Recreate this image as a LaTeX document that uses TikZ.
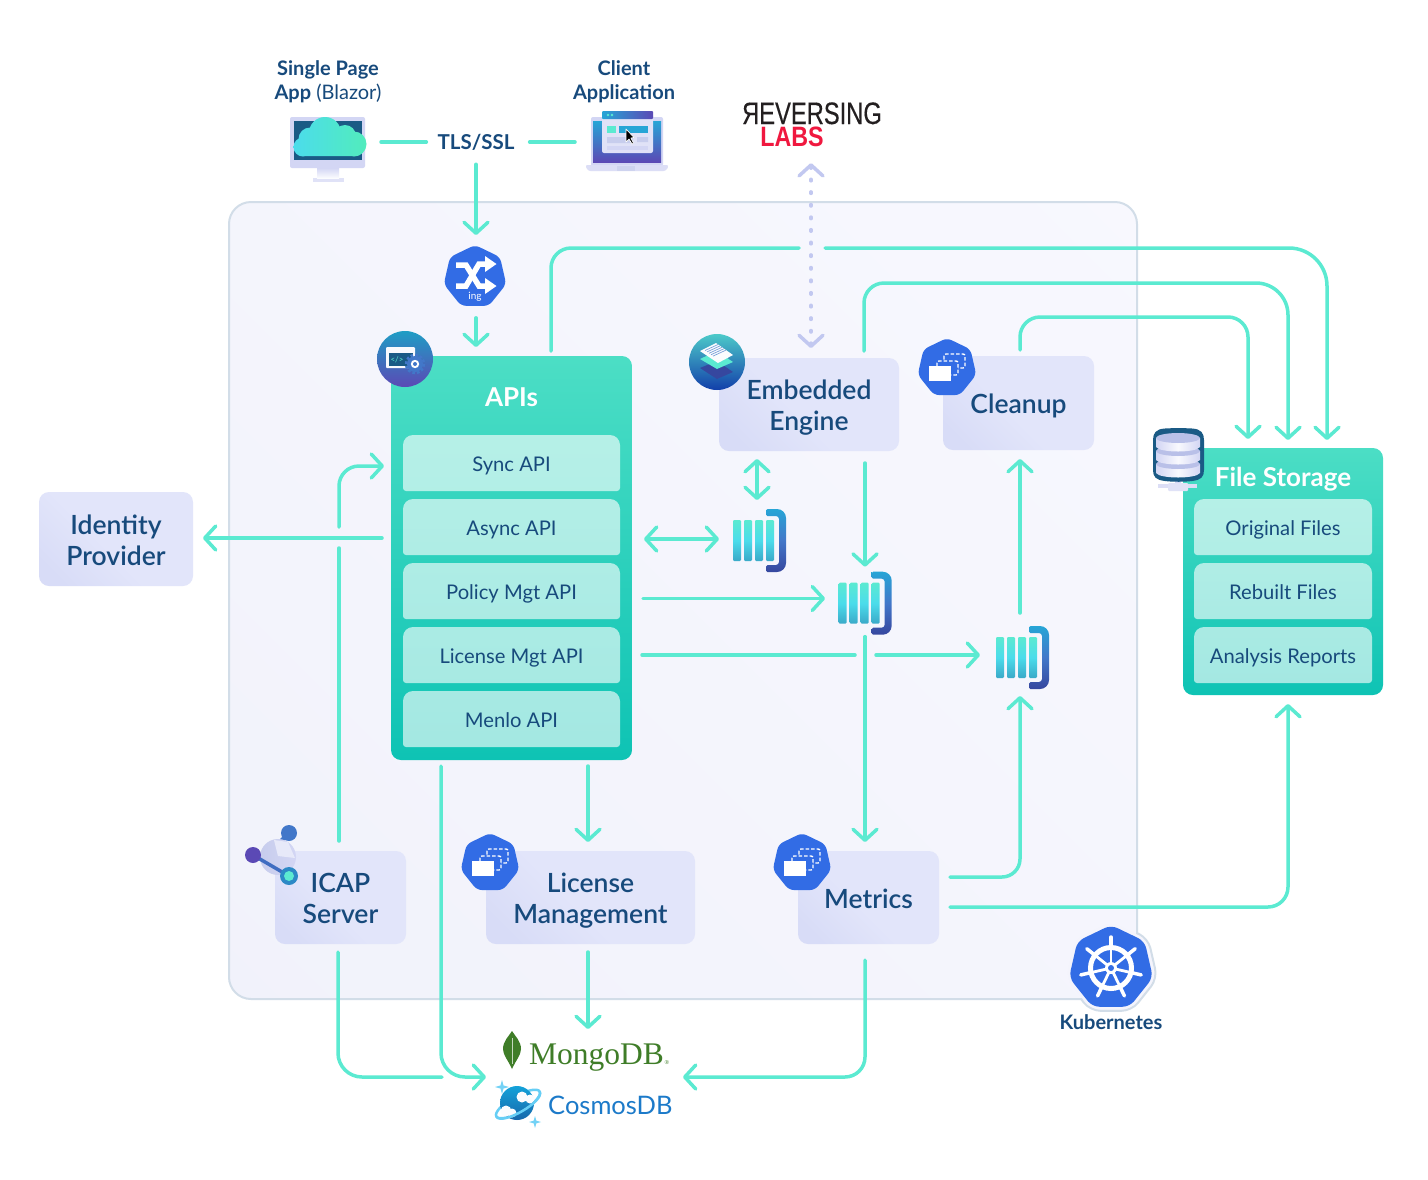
\documentclass[tikz,border=0pt]{standalone}
\usepackage{fontspec}
\usepackage{graphicx}
\setmainfont{Lato}
\newfontfamily\medfont{Lato Semibold}
\newfontfamily\serifont{Liberation Serif}
\newfontfamily\rlfont[FakeBold=0.35]{Liberation Sans}
\newfontfamily\rllabs{Liberation Sans}
\usetikzlibrary{arrows.meta,shapes.geometric,calc}
\definecolor{flowc}{HTML}{5BEAD1}
\definecolor{dotc}{HTML}{C2C8F0}
\definecolor{inkc}{HTML}{174A7C}
\definecolor{boxa}{HTML}{D8DCF7}
\definecolor{boxb}{HTML}{E2E5FA}
\definecolor{panela}{HTML}{F0F1FA}
\definecolor{panelb}{HTML}{F9F9FF}
\definecolor{paneledge}{HTML}{D2DDE8}
\definecolor{kblue}{HTML}{326CE5}
\definecolor{tealtop}{HTML}{4CDEC5}
\definecolor{tealbot}{HTML}{0EC3B4}
\definecolor{lav}{HTML}{D3D6F4}
\definecolor{lavdeep}{HTML}{B9C0E8}
\definecolor{navy}{HTML}{1A5A85}
\definecolor{skyb}{HTML}{27A5D6}
\definecolor{violet}{HTML}{5B49B5}
\definecolor{barmid}{HTML}{4BDCEB}
\definecolor{barlow}{HTML}{3AA9C8}
\definecolor{brmid}{HTML}{4277C9}
\definecolor{brlow}{HTML}{36479F}
\definecolor{mongoc}{HTML}{3F7D28}
\definecolor{cosmosc}{HTML}{1C7AC9}
\definecolor{rlred}{HTML}{F0183F}
\definecolor{rlblack}{HTML}{231F20}
\pgfdeclarehorizontalshading{boxshade}{100bp}{color(0bp)=(boxa); color(22bp)=(boxa); color(45bp)=(boxb); color(100bp)=(boxb)}
\pgfdeclarehorizontalshading{panelshade}{100bp}{color(0bp)=(panela); color(100bp)=(panelb)}
\newcommand\bt[1]{\raisebox{-11pt}[0pt][0pt]{\begin{tabular}{@{}c@{}}#1\end{tabular}}}
\tikzset{
  >={Straight Barb[length=11pt,width=24pt,round,line width=3.5pt]},
  flow/.style={draw=flowc,line width=3.5pt,line cap=round,line join=round},
  dotflow/.style={draw=dotc,line width=3.5pt,line cap=round,dash pattern=on 1.5pt off 11.1pt},
  boxnode/.style={shading=boxshade,shading angle=45,rounded corners=10pt,inner sep=0pt,outer sep=0pt,anchor=north west,text=inkc,font=\medfont\fontsize{26.5pt}{31pt}\selectfont},
  greenbox/.style={top color=tealtop,bottom color=tealbot,rounded corners=10pt,inner sep=0pt,outer sep=0pt,anchor=north west},
  rowtext/.style={text=inkc,inner sep=0pt,outer sep=0pt,text height=18.5pt,text depth=2.5pt,font=\fontsize{20.2pt}{24pt}\selectfont},
  titletext/.style={text=white,inner sep=0pt,font=\bfseries\fontsize{26pt}{30pt}\selectfont},
  toplabel/.style={text=inkc,inner sep=0pt,align=center,font=\fontsize{20pt}{24pt}\selectfont},
  hept/.style={regular polygon,regular polygon sides=7,fill=kblue,rounded corners=5pt,inner sep=0pt,outer sep=0pt},
  areabox/.style={inner sep=0pt,outer sep=0pt,anchor=north west},
  foldericon/.pic={
    \draw[white,line width=1.4pt,dash pattern=on 3.5pt off 2pt,rounded corners=2pt] (-3,-14) rectangle (18,0);
    \draw[white,fill=kblue,line width=1.4pt,dash pattern=on 3.5pt off 2pt,rounded corners=2pt] (-10,-7) rectangle (11,7);
    \fill[white] (-18,-2) rectangle (4,13);
  },
  queueicon/.pic={
    \foreach \qx in {0,11,22,33}{
      \path[top color=flowc,bottom color=barlow,middle color=barmid,rounded corners=1.2pt] (\qx,11) rectangle ++(8,41);
    }
    \path[top color=skyb,bottom color=brlow,middle color=brmid]
      (33,2) [rounded corners=1.5pt] -- (33,0) [rounded corners=9pt] -- (53,0) -- (53,63) [rounded corners=1.5pt] -- (33,63) -- (33,56) [rounded corners=3pt] -- (46,56) -- (46,7) [rounded corners=1.5pt] -- (33,7) -- cycle;
  }
}
\newcommand\rowbox[5]{%
  \path[fill=white,fill opacity=.62] ({#2},{#3+28}) [rounded corners=10pt] -- (#2,#3) -- ({#2+#4},#3) -- ({#2+#4},{#3+28}) [rounded corners=3pt] -- ({#2+#4},{#3+56}) -- (#2,{#3+56}) -- cycle;
  \node[rowtext,minimum width=#4 pt,minimum height=56pt] (#1) at ({#2+#4/2},{#3+28}) {#5};
}
\newcommand\sparkle[3]{%
  \fill[cyan!55!white] (#1,{#2-#3}) -- ({#1+.22*#3},{#2-.22*#3}) -- ({#1+#3},#2) -- ({#1+.22*#3},{#2+.22*#3}) -- (#1,{#2+#3}) -- ({#1-.22*#3},{#2+.22*#3}) -- ({#1-#3},#2) -- ({#1-.22*#3},{#2-.22*#3}) -- cycle;
}
\begin{document}
\begin{tikzpicture}[x=1pt,y=-1pt]
\useasboundingbox (0,0) rectangle (1428,1179);
\fill[white] (0,0) rectangle (1428,1179);

% Kubernetes panel with its outset round the badge
\node[regular polygon,regular polygon sides=7,minimum size=95pt,rounded corners=10pt,fill=panela,draw=paneledge,line width=2pt,inner sep=0pt] (halo) at (1111,968) {};
\node[areabox,shading=panelshade,shading angle=45,draw=paneledge,line width=2pt,rounded corners=22pt,minimum width=908pt,minimum height=797pt] (panel) at (229,202) {};
\node[regular polygon,regular polygon sides=7,minimum size=92pt,rounded corners=9pt,fill=panela!60!panelb,inner sep=0pt] (halofill) at (1111,968) {};
\node[hept,minimum size=86pt,rounded corners=7pt] (k8s) at (1111,968) {};
\foreach \a in {-90,-38.57,12.86,64.29,115.71,167.14,218.57}{
  \draw[white,line width=2.8pt] (k8s.center) -- ($(k8s.center)+(\a:25)$);
  \draw[white,line width=3.5pt,line cap=round] ($(k8s.center)+(\a:21)$) -- ($(k8s.center)+(\a:31)$);
}
\draw[white,line width=5pt] (k8s.center) circle (20.5);
\fill[white] (k8s.center) circle (6);
\fill[kblue] (k8s.center) circle (3);
\node[toplabel,font=\bfseries\fontsize{20pt}{24pt}\selectfont] (k8slabel) at (1111,1022) {Kubernetes};

% Top labels and clients
\node[toplabel] (spalabel) at (328,82) {\textbf{Single Page}\\\textbf{App} (Blazor)};
\node[toplabel,font=\bfseries\fontsize{20pt}{24pt}\selectfont] (clientlabel) at (624,82) {Client\\Application};
\node[toplabel,font=\bfseries\fontsize{20.5pt}{24pt}\selectfont] (tls) at (476,142) {TLS/SSL};

\node[areabox,minimum width=75pt,minimum height=65pt] (spa) at (290,117) {};
\fill[lav!70!white] (313,178) rectangle (344,182);
\path[top color=lav,bottom color=white!92!lav] (317,168) rectangle (339,178);
\fill[lav,rounded corners=2pt] (290,117) rectangle (365,168);
\fill[navy] (294,121) rectangle (362,160);
\path[left color=barmid,right color=flowc!90!green] (354,140) rectangle (303,156) (325,133) circle (16) (345,136) circle (11) (354,144) circle (12.5) (310,139) circle (11.5) (303,147) circle (9.5);

\node[areabox,minimum width=84pt,minimum height=60pt] (client) at (585,111) {};
\fill[lav,rounded corners=2pt] (591,117) rectangle (663,166);
\path[top color=skyb,bottom color=violet] (593,121) rectangle (661,162);
\fill[lav!80!white,rounded corners=2.5pt] (585,165) -- (669,165) -- (666,171) -- (588,171) -- cycle;
\fill[lavdeep!70!white] (617,166) rectangle (635,171);
\fill[lav!70!white,rounded corners=2pt] (602,114) rectangle (653,153);
\path[left color=skyb,right color=violet,rounded corners=1pt] (602,111) rectangle (653,119);
\fill[flowc] (608,115) circle (1.4) (612,115) circle (1.4);
\fill[flowc] (607,126) rectangle (616,133);
\fill[skyb] (619,126) rectangle (648,133);
\fill[lavdeep!80!white] (607,137) rectangle (633,143) (637,137) rectangle (648,142);
\fill[lav] (607,146) rectangle (648,150);
\draw[white,fill=black,line width=.7pt,line join=round] (626,129) -- (626,142) -- (629,139) -- (632,144) -- (633.5,143) -- (631,138) -- (634,137.5) -- cycle;

% Reversing Labs
\node[inner sep=0pt,text=rlblack,text height=22pt,text depth=0pt,font=\rlfont\fontsize{31pt}{31pt}\selectfont] (rl1) at (812,113) {\scalebox{.765}[1]{\reflectbox{R}EVERSING}};
\node[inner sep=0pt,text=rlred,text height=20pt,text depth=0pt,font=\rllabs\bfseries\fontsize{28pt}{28pt}\selectfont] (rl2) at (792,136) {\scalebox{.83}[1]{LABS}};

% Ingress
\node[hept,minimum size=64pt] (ing) at (475,277) {};
\draw[white,line width=5.5pt] (456,265) -- (466,265) -- (479,286) -- (487,286);
\draw[white,line width=5.5pt] (456,286) -- (466,286) -- (479,264) -- (487,264);
\fill[white] (485,256) -- (496.5,264) -- (485,272) -- cycle (485,278) -- (496.5,286) -- (485,294) -- cycle;
\node[inner sep=0pt,text=white,font=\fontsize{10pt}{10pt}\selectfont] (inglabel) at (475,297) {ing};

% APIs
\node[greenbox,minimum width=241pt,minimum height=404pt] (apis) at (391,356) {};
\node[titletext] (apistitle) at (511.5,397) {APIs};
\rowbox{sync}{403}{435}{217}{Sync API}
\rowbox{async}{403}{499}{217}{Async API}
\rowbox{policy}{403}{563}{217}{Policy Mgt API}
\rowbox{licmgt}{403}{627}{217}{License Mgt API}
\rowbox{menlo}{403}{691}{217}{Menlo API}
\path[top color=skyb!80!teal,bottom color=violet] (405,359) circle (28);
\fill[white!85!lav,rounded corners=1pt] (386,347) rectangle (415,368);
\fill[navy] (389,353) rectangle (413,366);
\node[inner sep=0pt,text=flowc,font=\fontsize{8pt}{8pt}\selectfont] (codetxt) at (397,359.5) {</>};
\draw[brmid,line width=2.5pt,dash pattern=on 2.6pt off 2.1pt] (415,364) circle (9);
\fill[brmid] (415,364) circle (8);
\fill[white] (415,364) circle (4.2);
\fill[brmid] (415,364) circle (2);

% Service boxes
\node[boxnode,minimum width=180pt,minimum height=93pt] (engine) at (719,358) {\bt{Embedded\\Engine}};
\node[boxnode,minimum width=151pt,minimum height=94pt] (cleanup) at (943,356) {\bt{Cleanup}};
\node[boxnode,minimum width=154pt,minimum height=94pt] (idp) at (39,492) {\bt{Identity\\Provider}};
\node[boxnode,minimum width=131pt,minimum height=93pt] (icap) at (275,851) {\bt{ICAP\\Server}};
\node[boxnode,minimum width=209pt,minimum height=93pt] (lic) at (486,851) {\bt{License\\Management}};
\node[boxnode,minimum width=141pt,minimum height=93pt] (metrics) at (798,851) {\bt{Metrics}};

% Engine icon
\path[top color=teal!60!cyan!70,bottom color=navy!70!blue] (717,362) circle (28);
\fill[brlow] (700,368) -- (717,361) -- (733,372) -- (717,379) -- cycle;
\fill[flowc] (700,359) -- (717,351) -- (733,362) -- (717,369) -- cycle;
\fill[white!92!lav] (700,351) -- (716,343) -- (733,355) -- (718,363) -- cycle;
\foreach \s in {0,1,2,3,4}{\draw[brmid!70!white,line width=.7pt] ($(705,350.5)+(\s*2,\s*1.4)$) -- ++(13,-6);}

% Cleanup / License / Metrics badges
\node[hept,minimum size=60pt] (cleanupbadge) at (947,368) {};
\pic at (cleanupbadge.center) {foldericon};
\node[hept,minimum size=60pt] (licbadge) at (490,863) {};
\pic at (licbadge.center) {foldericon};
\node[hept,minimum size=60pt] (metricsbadge) at (802,863) {};
\pic at (metricsbadge.center) {foldericon};

% ICAP icon
\draw[brmid,line width=4pt] (289,833) -- (277,845);
\path[left color=lavdeep!80!white,right color=lav] (278,857) circle (18);
\fill[white!45!lav] (274,840) -- (288,842) -- (295,858) -- (278,856) -- cycle;
\fill[brmid] (289,833) circle (8);
\draw[brmid!80!brlow,line width=3.5pt] (253,855) -- (289,876);
\fill[violet] (253,855) circle (8);
\fill[skyb!70!brlow] (289,876) circle (9);
\fill[flowc] (289,876) circle (5);

% Queues
\node[areabox,minimum width=53pt,minimum height=63pt] (q1) at (733,509) {};
\pic at (q1.north west) {queueicon};
\node[areabox,minimum width=53pt,minimum height=63pt] (q2) at (838.7,571.7) {};
\pic at (q2.north west) {queueicon};
\node[areabox,minimum width=53pt,minimum height=63pt] (q3) at (996,626) {};
\pic at (q3.north west) {queueicon};

% File storage
\node[greenbox,minimum width=200pt,minimum height=247pt] (fs) at (1183,448) {};
\node[titletext] (fstitle) at (1283,479) {File Storage};
\rowbox{orig}{1194}{499}{178}{Original Files}
\rowbox{rebuilt}{1194}{563}{178}{Rebuilt Files}
\rowbox{reports}{1194}{627}{178}{Analysis Reports}
\node[areabox,minimum width=52pt,minimum height=62pt] (dbicon) at (1152,429) {};
\fill[lav] (1175,480) rectangle (1181,489);
\fill[lav!80!white] (1158,484) rectangle (1197,488);
\fill[lav!70!white,rounded corners=1pt] (1168,483) rectangle (1188,491);
\fill[navy] (1153,440) .. controls (1153,433) and (1156,429) .. (1165,428.5) .. controls (1172,428) and (1185,428) .. (1192,428.5) .. controls (1201,429) and (1204,433) .. (1204,440) -- (1204,470) .. controls (1204,477) and (1201,480) .. (1192,481) .. controls (1185,482) and (1172,482) .. (1165,481) .. controls (1156,480) and (1153,477) .. (1153,470) -- cycle;
\foreach \ty in {464,451,438}{
  \path[left color=lav,right color=lav,middle color=white!85!lav] (1156,\ty) -- (1200,\ty) -- (1200,\ty+9) .. controls (1196,\ty+15) and (1160,\ty+15) .. (1156,\ty+9) -- cycle;
  \fill[lavdeep] (1178,\ty) ellipse (22 and 5);
}

% Databases
\node[areabox,minimum width=177pt,minimum height=98pt] (dbs) at (495,1030) {};
\fill[mongoc] (512,1069) .. controls (508,1060) and (503,1055) .. (503,1049) .. controls (503,1041) and (509,1036) .. (512,1031) .. controls (515,1036) and (521,1041) .. (521,1049) .. controls (521,1055) and (516,1060) .. (512,1069) -- cycle;
\draw[white!70!mongoc,line width=.6pt] (512,1038) -- (512,1064);
\node[anchor=west,inner sep=0pt,text=mongoc,font=\serifont\fontsize{31.5pt}{33pt}\selectfont] (mongo) at (529,1058) {MongoDB};
\node[anchor=west,inner sep=0pt,text=mongoc,font=\serifont\fontsize{6pt}{6pt}\selectfont] (mongor) at (664.5,1063) {®};
\node[anchor=west,inner sep=0pt,text=cosmosc,font=\fontsize{25.5pt}{30pt}\selectfont] (cosmos) at (548,1105) {CosmosDB};
\draw[cyan!60!white,line width=2.5pt,rotate around={30:(518,1104)}] (518,1104) ellipse (25 and 8);
\path[top color=cosmosc!70!cyan,bottom color=cosmosc!85!black] (517,1103) circle (17);
\fill[white!92!lav] (522,1097) circle (5.5) (530,1099) circle (4.5) (506,1111) circle (5.5) (512,1113) circle (4.5);
\draw[cyan!60!white,line width=2.5pt,rotate around={30:(518,1104)}] (493,1104) .. controls (493,1115) and (543,1115) .. (543,1104);
\sparkle{502}{1087}{7}
\sparkle{535}{1122}{6}

% Free ends of the broken and merging connectors
\coordinate (rlcrossL) at (799,248);
\coordinate (rlcrossR) at (825,248);
\coordinate (enginecrossL) at (855,655);
\coordinate (enginecrossR) at (876,655);
\coordinate (idpcrossB) at (339,548);
\coordinate (idpcrossT) at (339,527);
\coordinate (dbjoin) at (442,1077);

% Connectors
\draw[flow,shorten <=16pt,shorten >=11pt] (spa.east |- tls) -- (tls.west);
\draw[flow,shorten <=15pt,shorten >=10pt] (tls.east) -- (client.west |- tls);
\draw[flow,->,shorten <=14pt,shorten >=10pt] (tls.south) -- (tls.south |- ing.north);
\draw[flow,->,shorten <=12pt,shorten >=9pt] (ing.south -| tls.south) -- (tls.south |- apis.north);

\draw[flow,shorten <=5pt,rounded corners=20pt] ([xshift=160pt]apis.north west) |- (rlcrossL);
\draw[flow,->,shorten >=8pt,rounded corners=38pt] (rlcrossR) -| (1327,0 |- fs.north);
\draw[flow,->,shorten <=7pt,shorten >=8pt,rounded corners=24pt] (864,0 |- engine.north) [rounded corners=20pt] -- (864,283) [rounded corners=32pt] -- (1288,283) -- (1288,0 |- fs.north);
\draw[flow,->,shorten <=6pt,shorten >=9pt] (1020,0 |- cleanup.north) [rounded corners=20pt] -- (1020,317) -- (1248,317) -- (1248,0 |- fs.north);

\draw[dotflow,<->,shorten <=17pt,shorten >=10pt] (811,0 |- rl2.south) -- (811,0 |- engine.north);
\draw[flow,<->,shorten <=8pt,shorten >=9pt] (757,0 |- engine.south) -- (757,0 |- q1.north);
\draw[flow,->,shorten <=12pt,shorten >=5pt] (865,0 |- engine.south) -- (865,0 |- q2.north);
\draw[flow,<->,shorten <=24pt,shorten >=14pt] (async.east |- 0,539) -- (q1.west |- 0,539);
\draw[flow,->,shorten <=23pt,shorten >=13.7pt] (policy.east |- 0,598.5) -- (q2.west |- 0,598.5);
\draw[flow,shorten <=22pt] (licmgt.east) -- (enginecrossL);
\draw[flow,->,shorten >=16pt] (enginecrossR) -- (q3.west |- enginecrossR);
\draw[flow,->,shorten <=2pt,shorten >=9pt] (865,0 |- q2.south) -- (865,0 |- metrics.north);
\draw[flow,->,shorten <=13pt,shorten >=9pt] (1020,0 |- q3.north) -- (1020,0 |- cleanup.south);
\draw[flow,->,shorten <=11pt,shorten >=7pt,rounded corners=18pt] (metrics.east |- 0,877) -| (1020,0 |- q3.south);
\draw[flow,->,shorten <=11pt,shorten >=9pt,rounded corners=20pt] (metrics.east |- 0,907) -| (1288,0 |- fs.south);
\draw[flow,->,shorten <=9pt,shorten >=10pt] (apis.west |- 0,538) -- (idp.east |- 0,538);
\draw[flow,shorten <=10pt] (339,0 |- icap.north) -- (idpcrossB);
\draw[flow,->,shorten >=7pt,rounded corners=20pt] (idpcrossT) |- (apis.west |- 0,466);
\draw[flow,shorten <=8pt,rounded corners=24pt] (338,0 |- icap.south) |- (dbjoin);
\draw[flow,->,shorten <=6pt,shorten >=9pt,rounded corners=24pt] (441,0 |- apis.south) |- (dbs.west |- 0,1077);
\draw[flow,->,shorten <=6pt,shorten >=9pt] (588,0 |- apis.south) -- (588,0 |- lic.north);
\draw[flow,->,shorten <=8pt,shorten >=1pt] (588,0 |- lic.south) -- (588,0 |- dbs.north);
\draw[flow,->,shorten <=16pt,shorten >=11pt,rounded corners=20pt] (865,0 |- metrics.south) |- (dbs.east |- 0,1077);
\end{tikzpicture}
\end{document}
